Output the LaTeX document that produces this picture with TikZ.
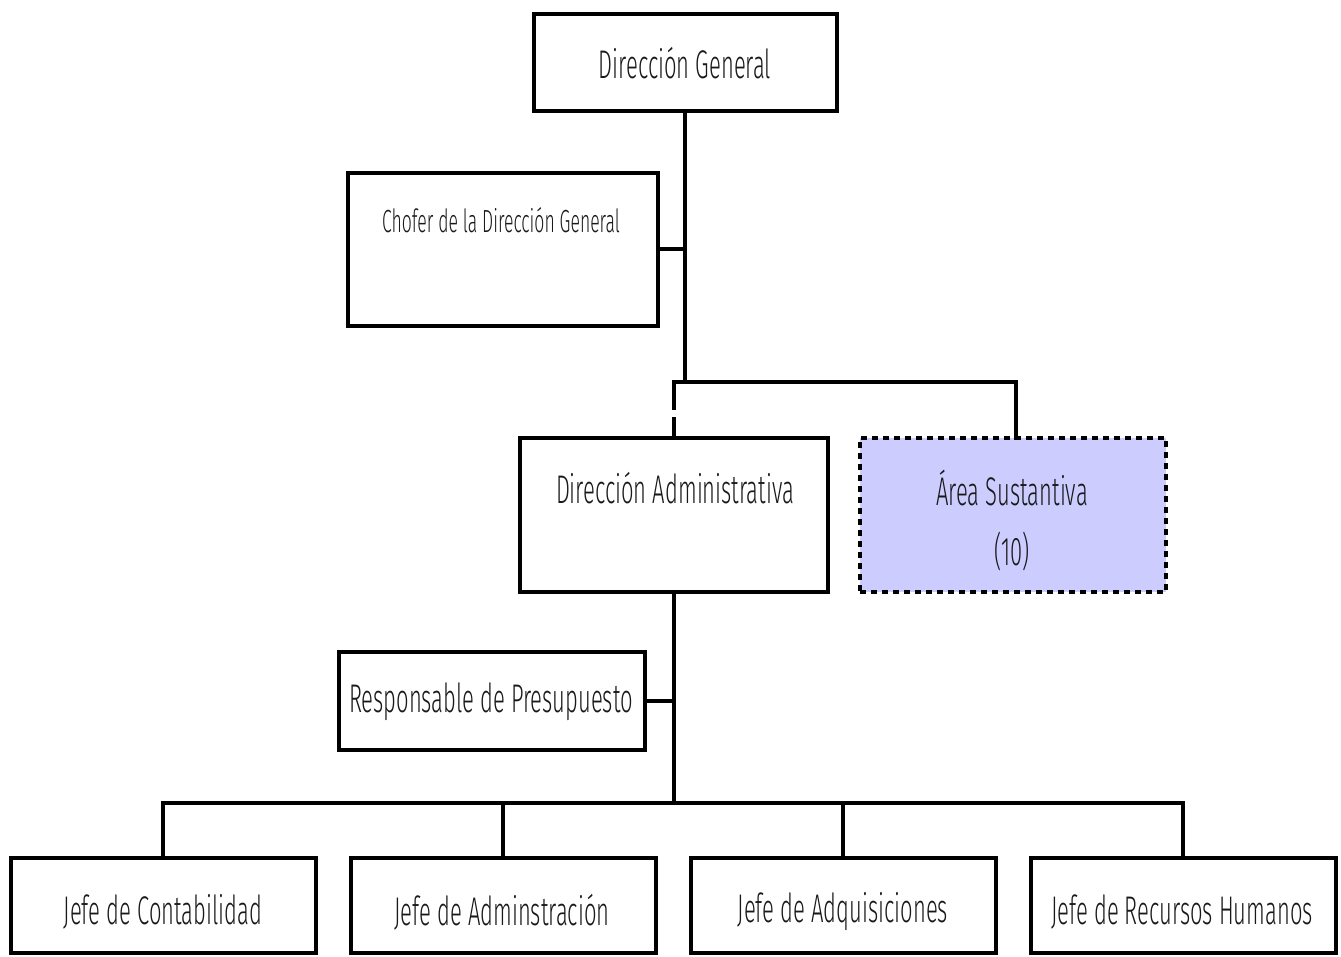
\documentclass[tikz,border=0pt]{standalone}
\usepackage{fontspec}
\setmainfont{Fira Sans Light}[FakeStretch=0.55]
\begin{document}
\begin{tikzpicture}[x=1pt,y=-1pt,line width=4pt,line join=miter,
  box/.style={draw,line width=4pt,inner sep=0pt,outer sep=0pt},
  txt/.style={font=\fontsize{40}{60}\selectfont,inner sep=0pt,text=black!90},
  smalltxt/.style={font=\fontsize{32}{38}\selectfont,inner sep=0pt,text=black!90},
  areabox/.style={box,fill={rgb,255:red,204;green,204;blue,255},dash pattern=on 6pt off 5pt}]
\useasboundingbox (0,0) rectangle (1341,957);
% boxes
\node[box,minimum width=303pt,minimum height=97pt] (dg) at (685,62.5) {};
\node[box,minimum width=310pt,minimum height=153pt] (ch) at (503,249.5) {};
\node[box,minimum width=308pt,minimum height=154pt] (da) at (674,515) {};
\node[areabox,minimum width=306pt,minimum height=154pt] (ar) at (1013,515) {};
\node[box,minimum width=306pt,minimum height=98pt] (rp) at (492,701) {};
\node[box,minimum width=305pt,minimum height=95pt] (b1) at (163,905.5) {};
\node[box,minimum width=305pt,minimum height=95pt] (b2) at (503,905.5) {};
\node[box,minimum width=305pt,minimum height=95pt] (b3) at (843,905.5) {};
\node[box,minimum width=305pt,minimum height=95pt] (b4) at (1183,905.5) {};
% junctions
\coordinate (bar1) at (685,382);
\coordinate (bar2) at (675,803);
% connectors
\draw (dg.south) -- (dg.south |- bar1);
\draw (ch.east) -- (ch.east -| dg.south);
\draw[line cap=rect] (da.north |- bar1) -- ([xshift=3pt]ar.north |- bar1) -- ([xshift=3pt]ar.north);
\draw[dash pattern=on 28pt off 7pt on 40pt] (da.north |- bar1) -- (da.north);
\draw (da.south) -- (da.south |- bar2);
\draw (rp.east) -- (rp.east -| da.south);
\draw[line cap=rect] (b1.north) -- (b1.north |- bar2) -- (b4.north |- bar2) -- (b4.north);
\draw (b2.north) -- (b2.north |- bar2);
\draw (b3.north) -- (b3.north |- bar2);
% texts
\node[txt] (dgt) at (685,63) {Dirección General};
\node[smalltxt] (cht) at (501,220) {Chofer de la Dirección General};
\node[txt] (dat) at (675,488) {Dirección Administrativa};
\node[txt,align=center] (art) at (1012,520) {Área Sustantiva\\(10)};
\node[txt] (rpt) at (491,702) {Responsable de Presupuesto};
\node[txt] (b1t) at (163,912) {Jefe de Contabilidad};
\node[txt] (b2t) at (502,912) {Jefe de Adminstración};
\node[txt] (b3t) at (843,912) {Jefe de Adquisiciones};
\node[txt] (b4t) at (1182,912) {Jefe de Recursos Humanos};
\end{tikzpicture}
\end{document}
